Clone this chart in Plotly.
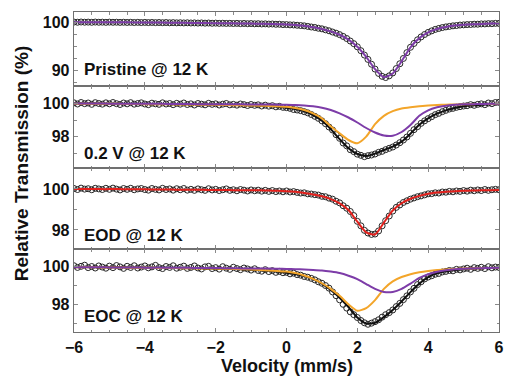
import plotly.graph_objects as go
from plotly.subplots import make_subplots

# ---------------- data ----------------
VELOCITY = [-6.0, -5.9, -5.8, -5.7, -5.6, -5.5, -5.4, -5.3, -5.2, -5.1,
            -5.0, -4.9, -4.8, -4.7, -4.6, -4.5, -4.4, -4.3, -4.2, -4.1,
            -4.0, -3.9, -3.8, -3.7, -3.6, -3.5, -3.4, -3.3, -3.2, -3.1,
            -3.0, -2.9, -2.8, -2.7, -2.6, -2.5, -2.4, -2.3, -2.2, -2.1,
            -2.0, -1.9, -1.8, -1.7, -1.6, -1.5, -1.4, -1.3, -1.2, -1.1,
            -1.0, -0.9, -0.8, -0.7, -0.6, -0.5, -0.4, -0.3, -0.2, -0.1,
            0.0, 0.1, 0.2, 0.3, 0.4, 0.5, 0.6, 0.7, 0.8, 0.9,
            1.0, 1.1, 1.2, 1.3, 1.4, 1.5, 1.6, 1.7, 1.8, 1.9,
            2.0, 2.1, 2.2, 2.3, 2.4, 2.5, 2.6, 2.7, 2.8, 2.9,
            3.0, 3.1, 3.2, 3.3, 3.4, 3.5, 3.6, 3.7, 3.8, 3.9,
            4.0, 4.1, 4.2, 4.3, 4.4, 4.5, 4.6, 4.7, 4.8, 4.9,
            5.0, 5.1, 5.2, 5.3, 5.4, 5.5, 5.6, 5.7, 5.8, 5.9,
            6.0]

FIT_VELOCITY = [-6.0, -5.75, -5.5, -5.25, -5.0, -4.75, -4.5, -4.25, -4.0, -3.75, -3.5, -3.25,
                -3.0, -2.75, -2.5, -2.25, -2.0, -1.75, -1.5, -1.25, -1.0, -0.75, -0.5, -0.25,
                0.0,
                0.25, 0.5, 0.75, 1.0, 1.25, 1.5, 1.75, 2.0, 2.25, 2.5, 2.75, 3.0,
                3.25, 3.5, 3.75, 4.0, 4.25, 4.5, 4.75, 5.0, 5.25, 5.5, 5.75, 6.0]

# Pristine @ 12 K
PRISTINE_DATA = [100.02, 99.98, 100.03, 99.99, 100.01, 99.97, 100.02, 99.98, 100.00, 99.96,
                 100.01, 99.97, 99.99, 99.95, 99.98, 99.94, 99.97, 99.93, 99.96, 99.92,
                 99.95, 99.91, 99.94, 99.90, 99.93, 99.89, 99.92, 99.87, 99.90, 99.86,
                 99.88, 99.84, 99.87, 99.83, 99.85, 99.81, 99.84, 99.79, 99.82, 99.77,
                 99.80, 99.75, 99.78, 99.74, 99.76, 99.72, 99.75, 99.70, 99.73, 99.68,
                 99.71, 99.66, 99.68, 99.63, 99.65, 99.60, 99.62, 99.56, 99.57, 99.50,
                 99.50, 99.44, 99.42, 99.36, 99.30, 99.24, 99.12, 99.00, 98.90, 98.74,
                 98.62, 98.42, 98.22, 97.96, 97.72, 97.42, 97.05, 96.62, 96.10, 95.55,
                 94.90, 94.10, 93.20, 92.30, 91.30, 90.30, 89.40, 88.80, 88.55, 88.90,
                 89.50, 90.40, 91.40, 92.50, 93.70, 94.80, 95.60, 96.35, 96.95, 97.45,
                 97.88, 98.20, 98.50, 98.70, 98.88, 99.02, 99.12, 99.24, 99.30, 99.40,
                 99.44, 99.50, 99.52, 99.58, 99.58, 99.64, 99.64, 99.70, 99.69, 99.75,
                 99.74]
PRISTINE_FIT = [100.00, 100.00, 99.99, 99.99, 99.98, 99.97, 99.96, 99.95, 99.94, 99.92, 99.91, 99.89,
                99.87, 99.85, 99.83, 99.81, 99.79, 99.77, 99.75, 99.72, 99.70, 99.67, 99.63, 99.58,
                99.52,
                99.43, 99.25, 98.95, 98.60, 98.10, 97.40, 96.40, 94.90, 92.80, 90.30, 88.60, 89.40,
                91.90, 94.80, 96.70, 97.90, 98.60, 99.00, 99.30, 99.45, 99.55, 99.63, 99.70, 99.75]

# 0.2 V @ 12 K
V02_DATA = [100.03, 99.96, 100.05, 99.98, 100.02, 99.94, 100.04, 99.99, 99.95, 100.03,
            99.97, 100.05, 99.98, 99.93, 100.02, 99.97, 100.04, 99.95, 99.99, 100.03,
            99.96, 99.92, 100.01, 99.97, 99.94, 100.03, 99.96, 99.99, 99.92, 100.00,
            99.95, 100.02, 99.93, 99.97, 99.90, 99.99, 99.95, 99.91, 100.00, 99.94,
            99.97, 99.90, 99.95, 99.99, 99.91, 99.94, 99.89, 99.96, 99.92, 99.87,
            99.93, 99.88, 99.91, 99.84, 99.89, 99.83, 99.86, 99.79, 99.82, 99.76,
            99.74, 99.70, 99.63, 99.60, 99.56, 99.50, 99.43, 99.33, 99.22, 99.10,
            98.95, 98.78, 98.58, 98.40, 98.12, 97.90, 97.62, 97.45, 97.22, 97.10,
            96.95, 96.88, 96.80, 96.86, 96.90, 96.96, 97.06, 97.12, 97.22, 97.30,
            97.38, 97.50, 97.64, 97.80, 97.98, 98.20, 98.42, 98.60, 98.80, 98.95,
            99.08, 99.20, 99.32, 99.40, 99.50, 99.58, 99.66, 99.70, 99.76, 99.80,
            99.84, 99.86, 99.92, 99.88, 99.94, 99.97, 99.92, 100.02, 99.98, 100.05,
            100.06]
V02_TOTAL = [99.99, 99.99, 99.99, 99.98, 99.98, 99.98, 99.97, 99.97, 99.97, 99.96, 99.96, 99.95,
             99.95, 99.94, 99.94, 99.93, 99.92, 99.91, 99.90, 99.89, 99.88, 99.86, 99.84, 99.80,
             99.74,
             99.66, 99.52, 99.30, 98.95, 98.45, 97.85, 97.30, 96.96, 96.84, 96.98, 97.20, 97.40,
             97.70, 98.18, 98.72, 99.10, 99.38, 99.58, 99.72, 99.82, 99.88, 99.92, 99.95, 99.97]
V02_SITE1 = [99.98, 99.98, 99.98, 99.97, 99.97, 99.97, 99.96, 99.96, 99.95, 99.95, 99.94, 99.94,
             99.93, 99.93, 99.92, 99.92, 99.91, 99.90, 99.89, 99.88, 99.87, 99.86, 99.84, 99.82,
             99.80,
             99.72, 99.60, 99.40, 99.10, 98.62, 98.20, 97.80, 97.60, 98.00, 98.75, 99.25, 99.53,
             99.69, 99.77, 99.83, 99.87, 99.90, 99.92, 99.93, 99.94, 99.95, 99.96, 99.96, 99.97]
V02_SITE2 = [99.99, 99.99, 99.99, 99.99, 99.98, 99.98, 99.98, 99.98, 99.97, 99.97, 99.97, 99.96,
             99.96, 99.96, 99.95, 99.95, 99.95, 99.94, 99.94, 99.94, 99.93, 99.93, 99.93, 99.92,
             99.92,
             99.90, 99.87, 99.82, 99.74, 99.60, 99.40, 99.15, 98.85, 98.52, 98.25, 98.07, 98.06,
             98.28, 98.70, 99.25, 99.58, 99.76, 99.86, 99.91, 99.94, 99.95, 99.96, 99.97, 99.97]

# EOD @ 12 K
EOD_DATA = [100.02, 99.97, 100.04, 99.99, 100.01, 99.96, 100.03, 100.00, 99.97, 100.03,
            99.98, 100.04, 99.99, 99.95, 100.02, 99.98, 100.03, 99.96, 100.00, 100.02,
            99.97, 99.94, 100.02, 99.98, 99.95, 100.03, 99.97, 100.00, 99.94, 100.01,
            99.96, 100.02, 99.94, 99.98, 99.93, 100.00, 99.96, 99.93, 100.01, 99.95,
            99.98, 99.92, 99.96, 100.00, 99.93, 99.96, 99.91, 99.97, 99.94, 99.90,
            99.95, 99.91, 99.94, 99.89, 99.93, 99.88, 99.92, 99.87, 99.90, 99.86,
            99.90, 99.85, 99.87, 99.83, 99.80, 99.81, 99.76, 99.75, 99.72, 99.70,
            99.64, 99.62, 99.55, 99.50, 99.40, 99.32, 99.18, 99.06, 98.90, 98.70,
            98.42, 98.20, 97.98, 97.85, 97.78, 97.80, 97.95, 98.20, 98.45, 98.68,
            98.92, 99.10, 99.22, 99.34, 99.42, 99.50, 99.56, 99.62, 99.66, 99.71,
            99.76, 99.77, 99.81, 99.80, 99.85, 99.84, 99.88, 99.86, 99.90, 99.88,
            99.92, 99.89, 99.94, 99.91, 99.95, 99.92, 99.97, 99.93, 99.96, 99.98,
            99.96]
EOD_FIT = [100.00, 100.00, 100.00, 99.99, 99.99, 99.99, 99.98, 99.98, 99.98, 99.97, 99.97, 99.97,
           99.96, 99.96, 99.96, 99.95, 99.95, 99.95, 99.94, 99.94, 99.93, 99.93, 99.92, 99.91,
           99.89,
           99.86, 99.80, 99.73, 99.64, 99.50, 99.30, 98.97, 98.40, 97.88, 97.78, 98.36, 98.95,
           99.30, 99.52, 99.66, 99.76, 99.82, 99.86, 99.89, 99.91, 99.92, 99.93, 99.94, 99.95]

# EOC @ 12 K
EOC_DATA = [100.05, 99.96, 100.02, 100.08, 99.95, 100.01, 99.93, 100.04, 99.98, 99.92,
            100.03, 99.95, 100.06, 99.99, 99.91, 100.02, 99.96, 100.05, 99.93, 99.98,
            100.04, 99.94, 99.99, 100.07, 99.95, 99.90, 100.01, 99.96, 100.05, 99.92,
            99.97, 100.03, 99.91, 99.96, 100.04, 99.93, 99.88, 99.99, 100.02, 99.90,
            99.95, 99.87, 100.00, 99.92, 99.86, 99.97, 99.90, 99.84, 99.93, 99.88,
            99.82, 99.89, 99.80, 99.76, 99.84, 99.74, 99.79, 99.70, 99.75, 99.68,
            99.70, 99.62, 99.66, 99.58, 99.55, 99.48, 99.44, 99.38, 99.30, 99.20,
            99.12, 99.00, 98.86, 98.66, 98.46, 98.24, 98.00, 97.80, 97.60, 97.45,
            97.30, 97.14, 97.02, 96.94, 97.00, 97.08, 97.18, 97.32, 97.45, 97.56,
            97.70, 97.88, 98.05, 98.25, 98.45, 98.66, 98.85, 99.05, 99.20, 99.35,
            99.45, 99.52, 99.60, 99.64, 99.72, 99.75, 99.80, 99.78, 99.86, 99.83,
            99.88, 99.92, 99.86, 99.95, 99.91, 99.97, 99.90, 100.00, 99.94, 99.98,
            99.96]
EOC_TOTAL = [99.98, 99.98, 99.98, 99.97, 99.97, 99.97, 99.96, 99.96, 99.95, 99.95, 99.94, 99.94,
             99.93, 99.92, 99.92, 99.91, 99.90, 99.89, 99.88, 99.86, 99.84, 99.81, 99.78, 99.73,
             99.68,
             99.61, 99.50, 99.35, 99.10, 98.76, 98.35, 97.85, 97.30, 96.98, 97.02, 97.32, 97.70,
             98.15, 98.65, 99.10, 99.45, 99.65, 99.76, 99.83, 99.87, 99.90, 99.92, 99.93, 99.94]
EOC_SITE1 = [99.97, 99.97, 99.97, 99.96, 99.96, 99.96, 99.95, 99.95, 99.94, 99.94, 99.93, 99.93,
             99.92, 99.92, 99.91, 99.90, 99.90, 99.89, 99.88, 99.87, 99.85, 99.83, 99.80, 99.77,
             99.74,
             99.66, 99.53, 99.35, 99.12, 98.82, 98.45, 98.00, 97.66, 97.80, 98.22, 98.82, 99.22,
             99.45, 99.60, 99.70, 99.77, 99.82, 99.85, 99.88, 99.90, 99.91, 99.92, 99.93, 99.94]
EOC_SITE2 = [99.97, 99.97, 99.97, 99.97, 99.96, 99.96, 99.96, 99.96, 99.95, 99.95, 99.95, 99.94,
             99.94, 99.94, 99.93, 99.93, 99.93, 99.92, 99.92, 99.91, 99.91, 99.90, 99.90, 99.89,
             99.88,
             99.87, 99.85, 99.83, 99.80, 99.74, 99.66, 99.52, 99.34, 99.08, 98.82, 98.66, 98.66,
             98.82, 99.10, 99.40, 99.60, 99.73, 99.81, 99.86, 99.89, 99.91, 99.92, 99.93, 99.94]

PANEL_LABELS = ["Pristine @ 12 K", "0.2 V @ 12 K", "EOD @ 12 K", "EOC @ 12 K"]
Y_RANGES = [[86.8, 102.1], [96.12, 101.04], [97.07, 101.02], [96.53, 100.94]]
Y_TICKS = [[90, 100], [98, 100], [98, 100], [98, 100]]
Y_MINOR = [[87.5, 92.5, 95, 97.5], [97, 99], [99], [97, 99]]
X_TICKS = [-6, -4, -2, 0, 2, 4, 6]
X_MINOR = [-5.5, -5, -4.5, -3.5, -3, -2.5, -1.5, -1, -0.5, 0.5, 1, 1.5, 2.5, 3, 3.5, 4.5, 5, 5.5]

# ---------------- style ----------------
FONT = "Liberation Sans, Arial, Helvetica, sans-serif"
AXIS_COLOR = "#707070"
TICK_COLOR = "#8a8a8a"
PURPLE = "#7d3ca8"
ORANGE = "#f3a52a"
RED = "#e3201c"
MARK = "#262626"

fig = make_subplots(rows=4, cols=1, shared_xaxes=True, vertical_spacing=0,
                    row_heights=[74, 82, 81, 83])


def add_data(row, y):
    fig.add_trace(go.Scatter(x=VELOCITY, y=y, mode="markers",
                             marker=dict(symbol="circle-open", size=6, color=MARK,
                                         line=dict(width=1, color=MARK)),
                             showlegend=False, hoverinfo="skip"), row=row, col=1)


def add_line(row, y, color, width=2):
    fig.add_trace(go.Scatter(x=FIT_VELOCITY, y=y, mode="lines",
                             line=dict(color=color, width=width, shape="spline", smoothing=0.6),
                             showlegend=False, hoverinfo="skip"), row=row, col=1)


add_data(1, PRISTINE_DATA)
add_line(1, PRISTINE_FIT, PURPLE)

add_data(2, V02_DATA)
add_line(2, V02_TOTAL, "#111111")
add_line(2, V02_SITE1, ORANGE)
add_line(2, V02_SITE2, PURPLE)

add_data(3, EOD_DATA)
add_line(3, EOD_FIT, RED)

add_data(4, EOC_DATA)
add_line(4, EOC_TOTAL, "#111111")
add_line(4, EOC_SITE1, ORANGE)
add_line(4, EOC_SITE2, PURPLE)

tickfont = dict(family=FONT, size=16, color="#111111", weight="bold")

for r in range(1, 5):
    fig.update_xaxes(row=r, col=1, range=[-6, 6], tickmode="array", tickvals=X_TICKS,
                     automargin=False,
                     showline=True, linecolor=AXIS_COLOR, linewidth=1.3, mirror="ticks",
                     ticks="inside", ticklen=4, tickwidth=1, tickcolor=TICK_COLOR,
                     minor=dict(tickmode="array", tickvals=X_MINOR, ticks="inside", ticklen=2.5,
                                tickcolor=TICK_COLOR, tickwidth=1),
                     showgrid=False, zeroline=False, tickfont=tickfont)
    fig.update_yaxes(row=r, col=1, range=Y_RANGES[r - 1], tickmode="array",
                     tickvals=Y_TICKS[r - 1], automargin=False,
                     showline=True, linecolor=AXIS_COLOR, linewidth=1.3, mirror="ticks",
                     ticks="inside", ticklen=4, tickwidth=1, tickcolor=TICK_COLOR,
                     minor=dict(tickmode="array", tickvals=Y_MINOR[r - 1], ticks="inside",
                                ticklen=2.5, tickcolor=TICK_COLOR, tickwidth=1),
                     showgrid=False, zeroline=False, tickfont=tickfont)

label_y = [0.8197, 0.5578, 0.3031, 0.0478]
for txt, yy in zip(PANEL_LABELS, label_y):
    fig.add_annotation(text=txt, xref="paper", yref="paper", x=0.019, y=yy,
                       xanchor="left", yanchor="middle", showarrow=False,
                       font=dict(family=FONT, size=17, color="#111111", weight="bold"))

fig.add_annotation(text="Relative Transmission (%)", xref="paper", yref="paper",
                   x=-0.125, y=0.527, textangle=-90, showarrow=False,
                   xanchor="center", yanchor="middle",
                   font=dict(family=FONT, size=19, color="#111111", weight="bold"))
fig.add_annotation(text="Velocity (mm/s)", xref="paper", yref="paper",
                   x=0.5, y=-0.106, showarrow=False, xanchor="center", yanchor="middle",
                   font=dict(family=FONT, size=18, color="#111111", weight="bold"))

fig.update_layout(width=505, height=378, margin=dict(l=74, r=6, t=12, b=46),
                  paper_bgcolor="white", plot_bgcolor="white", hovermode=False,
                  font=dict(family=FONT, color="#111111"))

fig.write_html("out.html", config={"displayModeBar": False, "staticPlot": True},
               post_script="document.body.style.margin='0';document.body.style.padding='0';"
                           "document.documentElement.style.overflow='hidden';")
